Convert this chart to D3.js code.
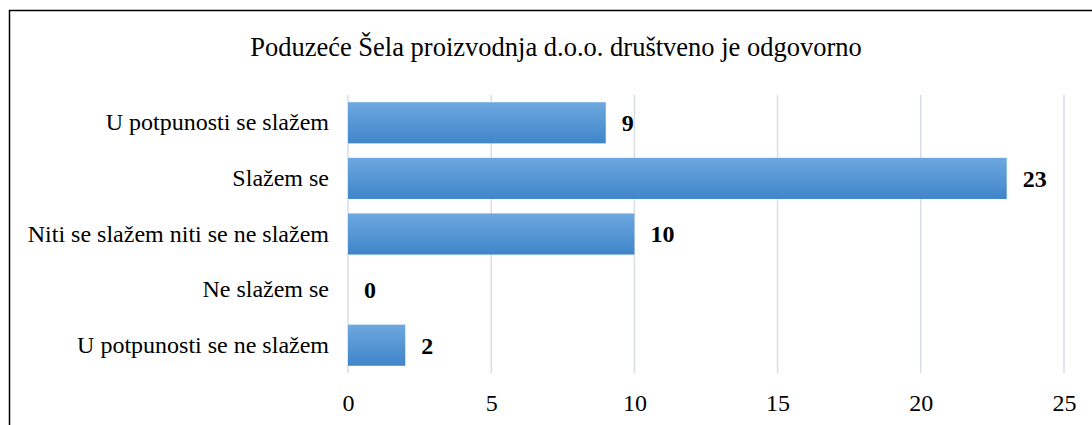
<!DOCTYPE html>
<html>
<head>
<meta charset="utf-8">
<script src="https://cdn.jsdelivr.net/npm/d3@7"></script>
<style>
  body { margin: 0; background: #fff; }
</style>
</head>
<body>
<script>
const categories = [
  "U potpunosti se slažem",
  "Slažem se",
  "Niti se slažem niti se ne slažem",
  "Ne slažem se",
  "U potpunosti se ne slažem"
];
const values = [9, 23, 10, 0, 2];
const xTicks = [0, 5, 10, 15, 20, 25];
const title = "Poduzeće Šela proizvodnja d.o.o. društveno je odgovorno";

const WIDTH = 1092;
const HEIGHT = 425;
const MARGIN = { top: 95, right: 28, bottom: 52, left: 348 };
const FONT = '"Liberation Serif", "Times New Roman", serif';

const svg = d3.select("body").append("svg")
  .attr("width", WIDTH)
  .attr("height", HEIGHT);

// bar gradient, lighter on top
const grad = svg.append("defs").append("linearGradient")
  .attr("id", "barFill")
  .attr("x1", 0).attr("y1", 0).attr("x2", 0).attr("y2", 1);
grad.append("stop").attr("offset", "0%").attr("stop-color", "#6da8e0");
grad.append("stop").attr("offset", "100%").attr("stop-color", "#3f85c9");

// outer frame
svg.append("rect")
  .attr("x", 9.5).attr("y", 10.5)
  .attr("width", WIDTH + 10).attr("height", HEIGHT + 10)
  .attr("fill", "none")
  .attr("stroke", "#000")
  .attr("stroke-width", 1.5);

const xScale = d3.scaleLinear()
  .domain([0, 25])
  .range([MARGIN.left, 1064]);

const yScale = d3.scaleBand()
  .domain(categories)
  .range([MARGIN.top, HEIGHT - MARGIN.bottom])
  .paddingInner(0.26)
  .paddingOuter(0.13);

// gridlines
svg.append("g")
  .selectAll("line")
  .data(xTicks)
  .join("line")
  .attr("x1", d => xScale(d)).attr("x2", d => xScale(d))
  .attr("y1", MARGIN.top).attr("y2", HEIGHT - MARGIN.bottom)
  .attr("stroke", "#d9dee6")
  .attr("stroke-width", 1.5);

// bars
svg.append("g")
  .selectAll("rect")
  .data(values)
  .join("rect")
  .attr("x", xScale(0))
  .attr("y", (d, i) => yScale(categories[i]))
  .attr("width", d => xScale(d) - xScale(0))
  .attr("height", yScale.bandwidth())
  .attr("fill", "url(#barFill)");

// value labels
svg.append("g")
  .selectAll("text")
  .data(values)
  .join("text")
  .attr("x", d => xScale(d) + 16)
  .attr("y", (d, i) => yScale(categories[i]) + yScale.bandwidth() / 2)
  .attr("dy", "0.35em")
  .style("font-family", FONT)
  .style("font-size", "24px")
  .style("font-weight", "bold")
  .text(d => d);

// category axis
const yAxis = d3.axisLeft(yScale).tickSize(0).tickPadding(19);
svg.append("g")
  .attr("transform", `translate(${MARGIN.left}, 0)`)
  .call(yAxis)
  .call(g => g.select(".domain").remove())
  .selectAll("text")
  .style("font-family", FONT)
  .style("font-size", "24px")
  .attr("fill", "#000");

// value axis
const xAxis = d3.axisBottom(xScale).tickValues(xTicks).tickSize(0).tickPadding(21);
svg.append("g")
  .attr("transform", `translate(0, ${HEIGHT - MARGIN.bottom})`)
  .call(xAxis)
  .call(g => g.select(".domain").remove())
  .selectAll("text")
  .style("font-family", FONT)
  .style("font-size", "24px")
  .attr("fill", "#000");

// title
svg.append("text")
  .attr("x", 556)
  .attr("y", 56)
  .attr("text-anchor", "middle")
  .style("font-family", FONT)
  .style("font-size", "26.5px")
  .text(title);
</script>
</body>
</html>
